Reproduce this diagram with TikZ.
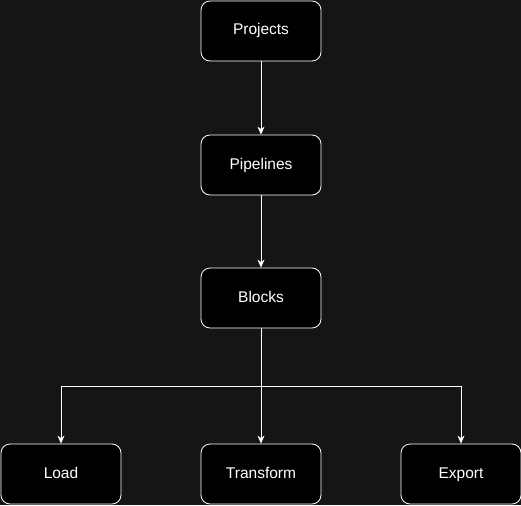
\documentclass[tikz,border=0pt]{standalone}
\usepackage{fontspec}
\setmainfont{Liberation Sans}
\usetikzlibrary{arrows.meta}
\definecolor{bg}{HTML}{151515}
\begin{document}
\begin{tikzpicture}[x=1pt,y=-1pt,
  box/.style={draw=white, fill=black, rounded corners=9pt, line width=0.8pt,
    minimum width=120pt, minimum height=60pt, inner sep=0pt, text=white,
    text height=11pt, text depth=3pt,
    font=\fontsize{15.5}{18}\selectfont},
  link/.style={draw=white, line width=0.8pt, -{Stealth[length=8pt,width=7pt,inset=2.5pt]}}]
\fill[bg] (0,0) rectangle (521,505);
\useasboundingbox (0,0) rectangle (521,505);
\node[box] (projects) at (261,31) {Projects};
\node[box] (pipelines) at (261,165) {Pipelines};
\node[box] (blocks) at (261,298) {Blocks};
\node[box] (load) at (61,474) {Load};
\node[box] (transform) at (261,474) {Transform};
\node[box] (export) at (461,474) {Export};
\draw[link] (projects) -- (pipelines);
\draw[link] (pipelines) -- (blocks);
\draw[link] (blocks) -- (transform);
\draw[link] (blocks.south) |- (61,386) -- (load.north);
\draw[link] (blocks.south) |- (461,386) -- (export.north);
\end{tikzpicture}
\end{document}
